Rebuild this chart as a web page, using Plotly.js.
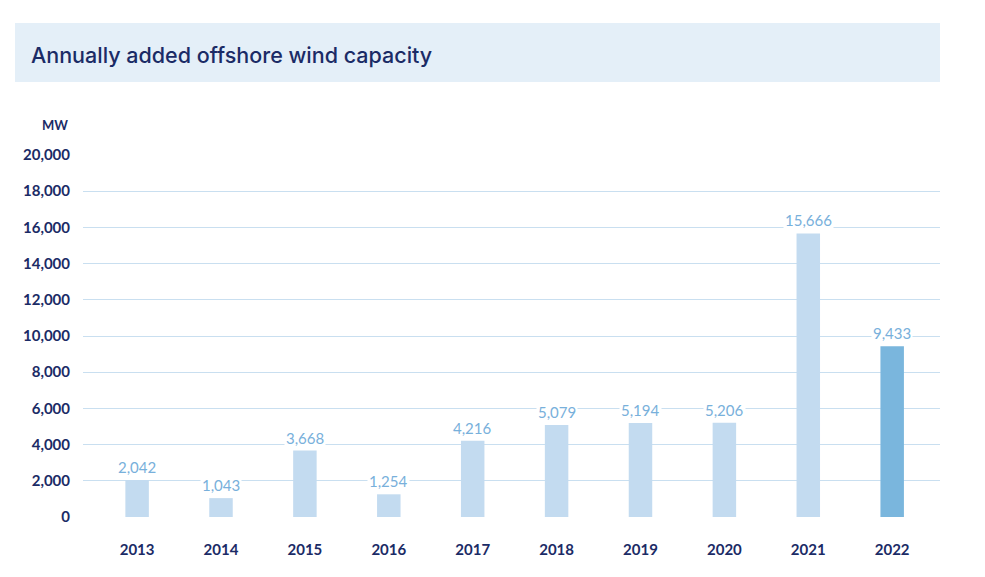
<!DOCTYPE html>
<html><head><meta charset="utf-8">
<script src="https://cdn.plot.ly/plotly-3.0.1.min.js"></script>
<style>body{margin:0;background:#fff}#c{width:985px;height:577px}</style>
</head><body><div id="c"></div>
<script>
const years = ['2013','2014','2015','2016','2017','2018','2019','2020','2021','2022'];
const capacity = [2042, 1043, 3668, 1254, 4216, 5079, 5194, 5206, 15666, 9433];
const barColors = ['#c3dbf0','#c3dbf0','#c3dbf0','#c3dbf0','#c3dbf0','#c3dbf0','#c3dbf0','#c3dbf0','#c3dbf0','#7ab6dd'];
const yTicks = [0,2000,4000,6000,8000,10000,12000,14000,16000,18000,20000];

const fmt = v => v.toLocaleString('en-US');
const navy = '#1b2b66';

const trace = {
  type: 'bar', x: years, y: capacity, width: 0.28,
  marker: {color: barColors}, hoverinfo: 'skip'
};
const annotations = years.map((yr, i) => ({
  x: i, y: capacity[i], xref: 'x', yref: 'y', text: fmt(capacity[i]),
  showarrow: false, yanchor: 'bottom', yshift: 2, bgcolor: '#ffffff',
  borderpad: 1, font: {family: 'Lato, sans-serif', size: 15, color: '#78b0db'}
}));
annotations.push({
  xref: 'paper', yref: 'paper', x: -0.015, y: 1.055, xanchor: 'right', yanchor: 'bottom',
  text: 'MW', showarrow: false, font: {family: 'Lato, sans-serif', size: 13, color: navy, weight: 'bold'}
});

const layout = {
  width: 985, height: 577,
  margin: {l: 83, r: 45, t: 155, b: 60},
  paper_bgcolor: '#ffffff', plot_bgcolor: '#ffffff',
  showlegend: false,
  title: {text: 'Annually added offshore wind capacity', xref: 'container', yref: 'container',
    x: 31/985, xanchor: 'left', y: 1 - 55/577, yanchor: 'middle',
    font: {family: 'Inter, sans-serif', size: 21.5, color: navy, weight: 500}},
  shapes: [{type: 'rect', xref: 'paper', yref: 'paper', x0: (15-83)/857, x1: 1, y0: (517-82)/362, y1: (517-23)/362,
    fillcolor: '#e4eff8', line: {width: 0}, layer: 'below'}],
  xaxis: {type: 'category', range: [-0.645, 9.57], showgrid: false, zeroline: false, showline: false,
    ticks: '', ticklabelstandoff: 22,
    tickfont: {family: 'Lato, sans-serif', size: 15, color: navy, weight: 'bold'}},
  yaxis: {range: [0, 20000], tickvals: yTicks, ticktext: yTicks.map(fmt), showgrid: true,
    gridcolor: '#c9dff0', gridwidth: 1, zeroline: false, showline: false, ticks: '',
    ticklabelstandoff: 12,
    tickfont: {family: 'Lato, sans-serif', size: 15, color: navy, weight: 'bold'}},
  annotations: annotations
};
Plotly.newPlot('c', [trace], layout, {displayModeBar: false, staticPlot: true});
</script></body></html>
